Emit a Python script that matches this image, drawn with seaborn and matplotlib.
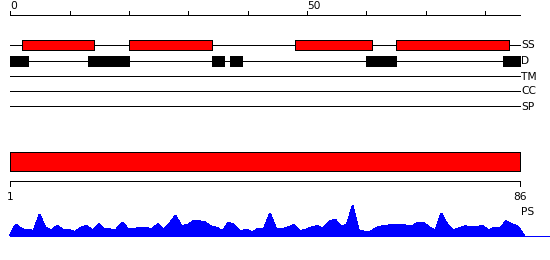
import matplotlib
matplotlib.use("Agg")
import matplotlib.pyplot as plt
import numpy as np
import pandas as pd
import seaborn as sns

# ---------------- data ----------------
seq_len = 86
ruler_ticks = list(range(0, 81, 10))
ruler_label_pos = [0, 50]
ruler_labels = ["0", "50"]

tracks = ["SS", "D", "TM", "CC", "SP"]

ss_start = [2, 20, 48, 65]
ss_end = [14, 34, 61, 84]

d_start = [0, 13, 34, 37, 60, 83]
d_end = [3, 20, 36, 39, 65, 86]

domain_start = [0]
domain_end = [86]
domain_ruler_labels = ["1", "86"]

ps_values = [11, 6.3, 5.4, 4.7, 21, 7.7, 5.3, 9.7, 5.3, 5.3,
             3.7, 7.7, 9.7, 4.7, 11.3, 6.3, 6, 6, 13, 6.3,
             6.3, 8, 7.7, 6, 11.3, 6, 12, 19.7, 9.7, 10.3,
             14.3, 14.3, 13, 9, 7.7, 4.3, 13, 10.3, 3.7, 6,
             3, 7, 7, 22, 7, 6, 8, 10.3, 4.3, 5.5,
             8, 9.3, 7, 13.7, 16, 9.3, 10.3, 29.5, 5.3, 3.7,
             3.7, 7.7, 9.3, 10, 11, 10.5, 10, 8.7, 13, 12.7,
             8, 4.7, 22, 11.3, 5.3, 7, 9.3, 8, 8.7, 9.3,
             5.3, 7.7, 7.7, 14.3, 11.3, 8.7]

# ---------------- style ----------------
sns.set_theme(style="white")
plt.rcParams["font.family"] = ["DejaVu Sans"]
plt.rcParams["lines.antialiased"] = False
plt.rcParams["patch.antialiased"] = False

W, H = 550, 260
fig = plt.figure(figsize=(W / 100, H / 100), dpi=100)
fig.patch.set_facecolor("white")

# main axes: x in residue units, y in pixel rows (top = 0)
PX = 5.93
X0 = 10.5
ax = fig.add_axes([0, 0, 1, 1])
ax.set_xlim(-X0 / PX, (W - X0) / PX)
ax.set_ylim(H, 0)
ax.axis("off")

LW = 0.72
FS = 7.7
BLACK = "#000000"
RED = "#ff0000"
BLUE = "#0000ff"

# top ruler
ruler_y = 14.5
ax.hlines(ruler_y, 0, seq_len, color=BLACK, lw=LW)
ax.vlines(ruler_ticks, ruler_y - 4, ruler_y, color=BLACK, lw=LW)
for p, lab in zip(ruler_label_pos, ruler_labels):
    ax.text(p, 8.8, lab, ha="left", va="baseline", fontsize=FS, color=BLACK)

# feature tracks
track_y = {"SS": 44.5, "D": 60.5, "TM": 75.5, "CC": 90.5, "SP": 105.5}
for name in tracks:
    y = track_y[name]
    ax.hlines(y, 0, seq_len, color=BLACK, lw=LW)
    ax.text(seq_len + 0.08, y + 4.0, name, ha="left", va="baseline",
            fontsize=FS, color=BLACK)

ss_s = np.array(ss_start)
ss_e = np.array(ss_end)
ax.barh(track_y["SS"], ss_e - ss_s, left=ss_s, height=10,
        color=RED, edgecolor=BLACK, linewidth=LW, zorder=3)

d_s = np.array(d_start)
d_e = np.array(d_end)
ax.barh(track_y["D"], d_e - d_s, left=d_s, height=10,
        color=BLACK, edgecolor=BLACK, linewidth=LW, zorder=3)

# domain bar
dom_s = np.array(domain_start)
dom_e = np.array(domain_end)
ax.barh(161, dom_e - dom_s, left=dom_s, height=19,
        color=RED, edgecolor=BLACK, linewidth=LW, zorder=3)

# bottom ruler
bot_y = 180.5
ax.hlines(bot_y, 0, seq_len, color=BLACK, lw=LW)
ax.vlines([0, seq_len], bot_y, bot_y + 5, color=BLACK, lw=LW)
for p, lab in zip([0, seq_len], domain_ruler_labels):
    ax.text(p, 200.3, lab, ha="center", va="baseline", fontsize=FS, color=BLACK)
ax.text(seq_len + 0.1, 215.3, "PS", ha="left", va="baseline", fontsize=FS, color=BLACK)

# profile axes
PX2 = 5.908
ax2 = fig.add_axes([0, 0, 1, 1])
ax2.set_xlim(-10 / PX2, (W - 10) / PX2)
ax2.set_ylim(-(H - 235.5), 235.5)
ax2.axis("off")
ax2.patch.set_alpha(0)

prof = pd.DataFrame({"pos": np.arange(len(ps_values) + 2),
                     "score": [0] + ps_values + [0]})
ax2.fill_between(prof["pos"], prof["score"], 0, color=BLUE, lw=0)
sns.lineplot(data=prof, x="pos", y="score", ax=ax2, color=BLUE, lw=LW)
ax2.axhline(0, xmin=10 / W, xmax=1.0, color=BLUE, lw=LW)
ax2.set_xlim(-10 / PX2, (W - 10) / PX2)
ax2.axis("off")

fig.savefig("out.png", dpi=100, facecolor="white")
